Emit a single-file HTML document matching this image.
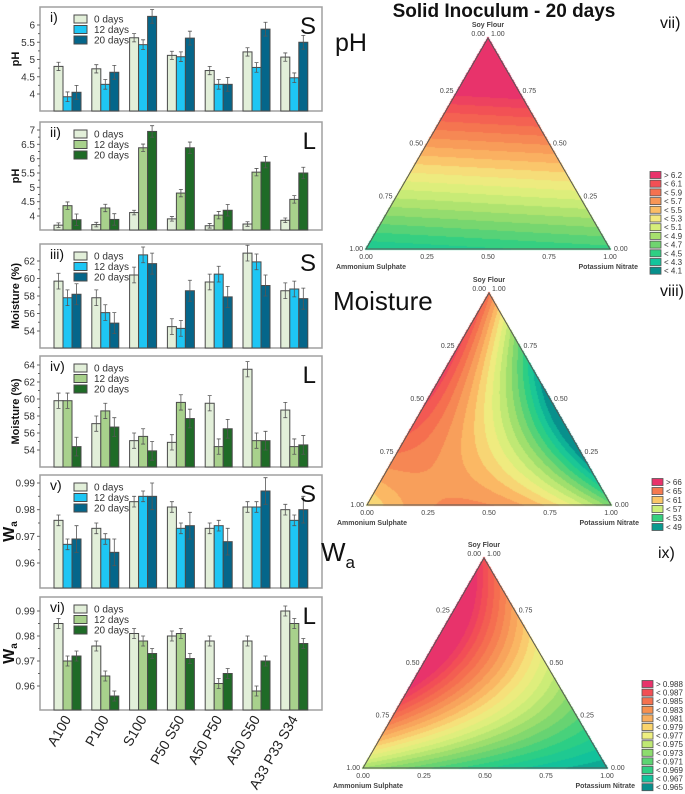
<!DOCTYPE html>
<html><head><meta charset="utf-8">
<style>
html,body{margin:0;padding:0;background:#fff;}
#wrap{position:relative;width:685px;height:794px;overflow:hidden;font-family:"Liberation Sans",sans-serif;}
canvas,svg{position:absolute;left:0;top:0;}
</style></head>
<body>
<div id="wrap">
<canvas id="cv" width="685" height="794"></canvas>
<svg id="sv" width="685" height="794"></svg>
</div>
<script>
// ---- data ----
const categories=['A100','P100','S100','P50 S50','A50 P50','A50 S50','A33 P33 S34'];
const seriesNames=['0 days','12 days','20 days'];
const pHS0=[4.80,4.73,5.63,5.12,4.68,5.22,5.07];
const pHS12=[3.92,4.28,5.43,5.08,4.28,4.77,4.47];
const pHS20=[4.05,4.63,6.25,5.62,4.28,5.88,5.50];
const pHL0=[3.68,3.70,4.12,3.90,3.66,3.72,3.85];
const pHL12=[4.36,4.28,6.38,4.80,4.03,5.53,4.58];
const pHL20=[3.87,3.88,6.95,6.38,4.20,5.88,5.50];
const moS0=[59.7,57.8,60.4,54.5,59.6,62.9,58.6];
const moS12=[57.8,56.1,62.7,54.3,60.5,61.9,58.8];
const moS20=[58.2,54.9,61.7,58.6,57.9,59.2,57.7];
const moL0=[59.8,57.1,55.1,54.9,59.5,63.5,58.7];
const moL12=[59.8,58.6,55.6,59.6,54.4,55.1,54.4];
const moL20=[54.4,56.7,53.9,57.7,56.5,55.1,54.6];
const waS0=[0.976,0.973,0.983,0.981,0.973,0.981,0.980];
const waS12=[0.967,0.969,0.985,0.973,0.974,0.981,0.976];
const waS20=[0.969,0.964,0.985,0.974,0.968,0.987,0.980];
const waL0=[0.985,0.976,0.981,0.980,0.978,0.978,0.990];
const waL12=[0.970,0.964,0.978,0.981,0.961,0.958,0.985];
const waL20=[0.972,0.956,0.973,0.971,0.965,0.970,0.977];
const pHTicks=[4,4.5,5,5.5,6];
const pHTicksL=[4,4.5,5,5.5,6,6.5,7];
const moTicks=[54,56,58,60,62];
const moTicksL=[54,56,58,60,62,64];
const waTicks=[0.96,0.97,0.98,0.99];
const pHLegend=['> 6.2','< 6.1','< 5.9','< 5.7','< 5.5','< 5.3','< 5.1','< 4.9','< 4.7','< 4.5','< 4.3','< 4.1'];
const moLegend=['> 66','< 65','< 61','< 57','< 53','< 49'];
const waLegend=['> 0.988','< 0.987','< 0.985','< 0.983','< 0.981','< 0.979','< 0.977','< 0.975','< 0.973','< 0.971','< 0.969','< 0.967','< 0.965'];

const NS='http://www.w3.org/2000/svg';
const sv=document.getElementById('sv');
function mk(tag,attrs,parent,text){const e=document.createElementNS(NS,tag);for(const k in attrs)e.setAttribute(k,attrs[k]);if(text!==undefined)e.textContent=text;(parent||sv).appendChild(e);return e;}

const colS=['#e2efd9','#1ec6f4','#05668a'];
const colL=['#e2efd9','#a8d18c','#1f6b27'];
const panels=[
 {top:7,bot:111,v1:6,y1:25,v2:4,y2:94,ticks:pHTicks,data:[pHS0,pHS12,pHS20],col:colS,err:[0.12,0.14,0.2],lab:'i)',tag:'S',title:'pH',name:'ph-solid',dec:1},
 {top:122,bot:230,v1:7,y1:130,v2:4,y2:216,ticks:pHTicksL,data:[pHL0,pHL12,pHL20],col:colL,err:[0.08,0.13,0.2],lab:'ii)',tag:'L',title:'pH',name:'ph-liquid',dec:1},
 {top:244,bot:348,v1:62,y1:261,v2:54,y2:331,ticks:moTicks,data:[moS0,moS12,moS20],col:colS,err:[0.9,0.9,1.2],lab:'iii)',tag:'S',title:'Moisture (%)',name:'moisture-solid',dec:0},
 {top:356,bot:467,v1:64,y1:365,v2:54,y2:450,ticks:moTicksL,data:[moL0,moL12,moL20],col:colL,err:[0.9,0.9,1.1],lab:'iv)',tag:'L',title:'Moisture (%)',name:'moisture-liquid',dec:0},
 {top:475,bot:588,v1:0.99,y1:483,v2:0.96,y2:563,ticks:waTicks,data:[waS0,waS12,waS20],col:colS,err:[0.002,0.002,0.005],lab:'v)',tag:'S',title:'Wa',name:'wa-solid',dec:2},
 {top:597,bot:710,v1:0.99,y1:611,v2:0.96,y2:686,ticks:waTicks,data:[waL0,waL12,waL20],col:colL,err:[0.002,0.002,0.002],lab:'vi)',tag:'L',title:'Wa',name:'wa-liquid',dec:2}
];
const X0=40,X1=322,G0=54,GS=37.8,BW=9;
panels.forEach(p=>{
 const g=mk('g',{});
 
 
 const y=v=>p.y1+(v-p.v1)*(p.y2-p.y1)/(p.v2-p.v1);
 const fr=mk('rect',{x:X0,y:p.top,width:X1-X0,height:p.bot-p.top,fill:'#fff',stroke:'#a0a0a0','stroke-width':1.5},g);
 
 
 p.data.forEach((arr,si)=>{
  arr.forEach((v,ci)=>{
   const x=G0+ci*GS+si*BW, yy=y(v);
   const b=mk('rect',{x:x,y:yy,width:BW,height:p.bot-yy,fill:p.col[si],stroke:'#4a4a4a','stroke-width':1},g);
   
   
   const e=p.err[si],cx=x+BW/2;
   const eb=mk('path',{d:`M${cx},${y(v+e)}V${y(v-e)}M${cx-2},${y(v+e)}h4M${cx-2},${y(v-e)}h4`,stroke:'#555','stroke-width':0.8,fill:'none'},g);
   
   
  });
 });
 p.ticks.forEach((t,i)=>{
  const ty=y(t);
  mk('line',{x1:X0-3,x2:X0,y1:ty,y2:ty,stroke:'#666'},g);
  const lbl=mk('text',{x:X0-5,y:ty+3.5,'font-size':10,'text-anchor':'end',fill:'#333'},g,p.dec===2?t.toFixed(2):String(t));
  
  
  if(i<p.ticks.length-1){const my=y((t+p.ticks[i+1])/2);mk('line',{x1:X0-2,x2:X0,y1:my,y2:my,stroke:'#666'},g);}
 });
 const cy=(p.top+p.bot)/2;
 let tt;
 if(p.title==='Wa'){
  tt=mk('text',{x:0,y:0,transform:`translate(14,${cy}) rotate(-90)`,'text-anchor':'middle','font-size':16,'font-weight':'bold',fill:'#111'},g);
  mk('tspan',{},tt,'W');mk('tspan',{'font-size':10,dy:3},tt,'a');
 } else {
  tt=mk('text',{x:0,y:0,transform:`translate(19,${cy}) rotate(-90)`,'text-anchor':'middle','font-size':11,'font-weight':'bold',fill:'#111'},g,p.title);
 }
 
 
 const pl=mk('text',{x:50,y:p.top+15,'font-size':14,fill:'#111'},g,p.lab);
 
 
 const tg=mk('text',{x:316,y:p.top+27,'font-size':24,'text-anchor':'end',fill:'#111'},g,p.tag);
 
 
 seriesNames.forEach((n,si)=>{
  const ly=p.top+8+si*10.5;
  const le=mk('g',{},g);
  
  
  mk('rect',{x:74,y:ly,width:13,height:8,fill:p.col[si],stroke:'#4a4a4a'},le);
  mk('text',{x:94,y:ly+7.5,'font-size':10,fill:'#333'},le,n);
 });
});
categories.forEach((c,ci)=>{
 const cx=G0+ci*GS+13.5+4;
 const t=mk('text',{x:0,y:0,transform:`translate(${cx},719) rotate(-60)`,'text-anchor':'end','font-size':14,fill:'#222'},sv,c);
 
 
});

// ---- ternaries ----
const pal=['#08908c','#12c49c','#2fcf83','#6fd46f','#a6e06d','#d6ef7a','#f4ea80','#fbbd66','#f79657','#f5714f','#f24f55','#e8336b'];
const palWa=['#08908c','#12c49c','#2fcf83','#5dd472','#8ddc6e','#bfe874','#eeef80','#fbd46c','#f9ae5e','#f7904f','#f5714f','#f24f55','#e8336b'];
const palRGB=pal.map(h=>[parseInt(h.slice(1,3),16),parseInt(h.slice(3,5),16),parseInt(h.slice(5,7),16)]);
function colAt(t,levels){t=Math.max(0,Math.min(0.9999,t));t=Math.floor(t*levels)/(levels-1);t=Math.min(1,t);const f=t*(palRGB.length-1),i=Math.floor(f),r=f-i;const a=palRGB[i],b=palRGB[Math.min(palRGB.length-1,i+1)];return a.map((v,k)=>Math.round(v+(b[k]-v)*r));}
const tris=[
 {A:[488,38],L:[366,249],R:[610,249],f:(s,a,k)=>0.14+1.12*s+0.07*k,lv:22,name:'ph',big:'pH',bx:335,by:51,bs:25,rom:'vii)',ry:28,leg:pHLegend,lx:650,ly0:175,lst:8.7,lc:pal.slice().reverse()},
 {A:[489,293],L:[367,505],R:[611,505],f:(s,a,k)=>0.8*s+0.55*a+0.3*k+0.9*s*a-2.2*s*k+1.2*a*k,lv:18,name:'moisture',big:'Moisture',bx:333,by:310,bs:26,rom:'viii)',ry:296,leg:moLegend,lx:652,ly0:482,lst:9,lc:['#e8336b','#f57a50','#fbc768','#cdef7a','#35d07f','#0a9a8f']},
 {A:[484,558],L:[363,768],R:[607,768],f:(s,a,k)=>0.85*s+0.32*a+1.7*s*a-0.15*a*k+0.05,lv:24,name:'wa',big:'W',bx:321,by:561,bs:26,rom:'ix)',ry:558,leg:waLegend,lx:642,ly0:684,lst:8.6,lc:palWa.slice().reverse()}
];
const cv=document.getElementById('cv'),ctx=cv.getContext('2d');
tris.forEach(T=>{
 const [ax,ay]=T.A,[lx,ly]=T.L,[rx,ry]=T.R;
 const det=(ly-ry)*(ax-rx)+(rx-lx)*(ay-ry);
 const x0=lx-1,y0=ay-1,w=rx-lx+3,h=ly-ay+3;
 const img=ctx.createImageData(w,h);
 for(let j=0;j<h;j++){for(let i=0;i<w;i++){
  const px=x0+i+0.5,py=y0+j+0.5;
  const s=((ly-ry)*(px-rx)+(rx-lx)*(py-ry))/det;
  const a=((ry-ay)*(px-rx)+(ax-rx)*(py-ry))/det;
  const k=1-s-a;
  if(s<-0.004||a<-0.004||k<-0.004)continue;
  const c=colAt(T.f(Math.max(0,s),Math.max(0,a),Math.max(0,k)),T.lv);
  const o=(j*w+i)*4;img.data[o]=c[0];img.data[o+1]=c[1];img.data[o+2]=c[2];img.data[o+3]=255;
 }}
 ctx.putImageData(img,x0,y0);
 const g=mk('g',{});
 
 
 const o=mk('path',{d:`M${ax},${ay}L${lx},${ly}L${rx},${ry}Z`,fill:'none',stroke:'#555','stroke-width':1},g);
 
 
 const st={'font-size':7,fill:'#444'};
 const t1=mk('text',Object.assign({x:ax,y:ay-11,'text-anchor':'middle','font-weight':'bold'},st),g,'Soy Flour');
 
 
 mk('text',Object.assign({x:ax-3,y:ay-2,'text-anchor':'end'},st),g,'0.00');
 mk('text',Object.assign({x:ax+3,y:ay-2},st),g,'1.00');
 ['0.25','0.50','0.75'].forEach((l,i)=>{const f=(i+1)/4;
  mk('text',Object.assign({x:ax+(lx-ax)*f-4,y:ay+(ly-ay)*f+2,'text-anchor':'end'},st),g,l);
  mk('text',Object.assign({x:ax+(rx-ax)*f+4,y:ay+(ry-ay)*f+2},st),g,['0.75','0.50','0.25'][i]);
 });
 mk('text',Object.assign({x:lx-3,y:ly+2,'text-anchor':'end'},st),g,'1.00');
 mk('text',Object.assign({x:rx+4,y:ry+2},st),g,'0.00');
 ['0.00','0.25','0.50','0.75','1.00'].forEach((l,i)=>mk('text',Object.assign({x:lx+(rx-lx)*i/4,y:ly+10,'text-anchor':'middle'},st),g,l));
 mk('text',Object.assign({x:lx+5,y:ly+20,'text-anchor':'middle','font-weight':'bold'},st),g,'Ammonium Sulphate');
 mk('text',Object.assign({x:rx+28,y:ry+20,'text-anchor':'end','font-weight':'bold'},st),g,'Potassium Nitrate');
 const bt=mk('text',{x:T.bx,y:T.by,'font-size':T.bs,fill:'#111'},sv);
 
 
 if(T.name==='wa'){mk('tspan',{},bt,'W');mk('tspan',{'font-size':17,dy:7},bt,'a');} else bt.textContent=T.big;
 const rt=mk('text',{x:T.name==='wa'?658:660,y:T.ry,'font-size':16,fill:'#111'},sv,T.rom);
 
 
 T.leg.forEach((l,i)=>{
  const yy=T.ly0+i*T.lst;
  const le=mk('g',{},sv);
  
  
  mk('rect',{x:T.lx,y:yy-3.5,width:11,height:7,fill:T.lc[i],stroke:'#555','stroke-width':0.8},le);
  mk('text',{x:T.lx+14,y:yy+3,'font-size':8,fill:'#333'},le,l);
 });
});
const ti=mk('text',{x:504,y:17,'font-size':19,'font-weight':'bold','text-anchor':'middle',fill:'#111'},sv,'Solid Inoculum - 20 days');


</script>
</body></html>
